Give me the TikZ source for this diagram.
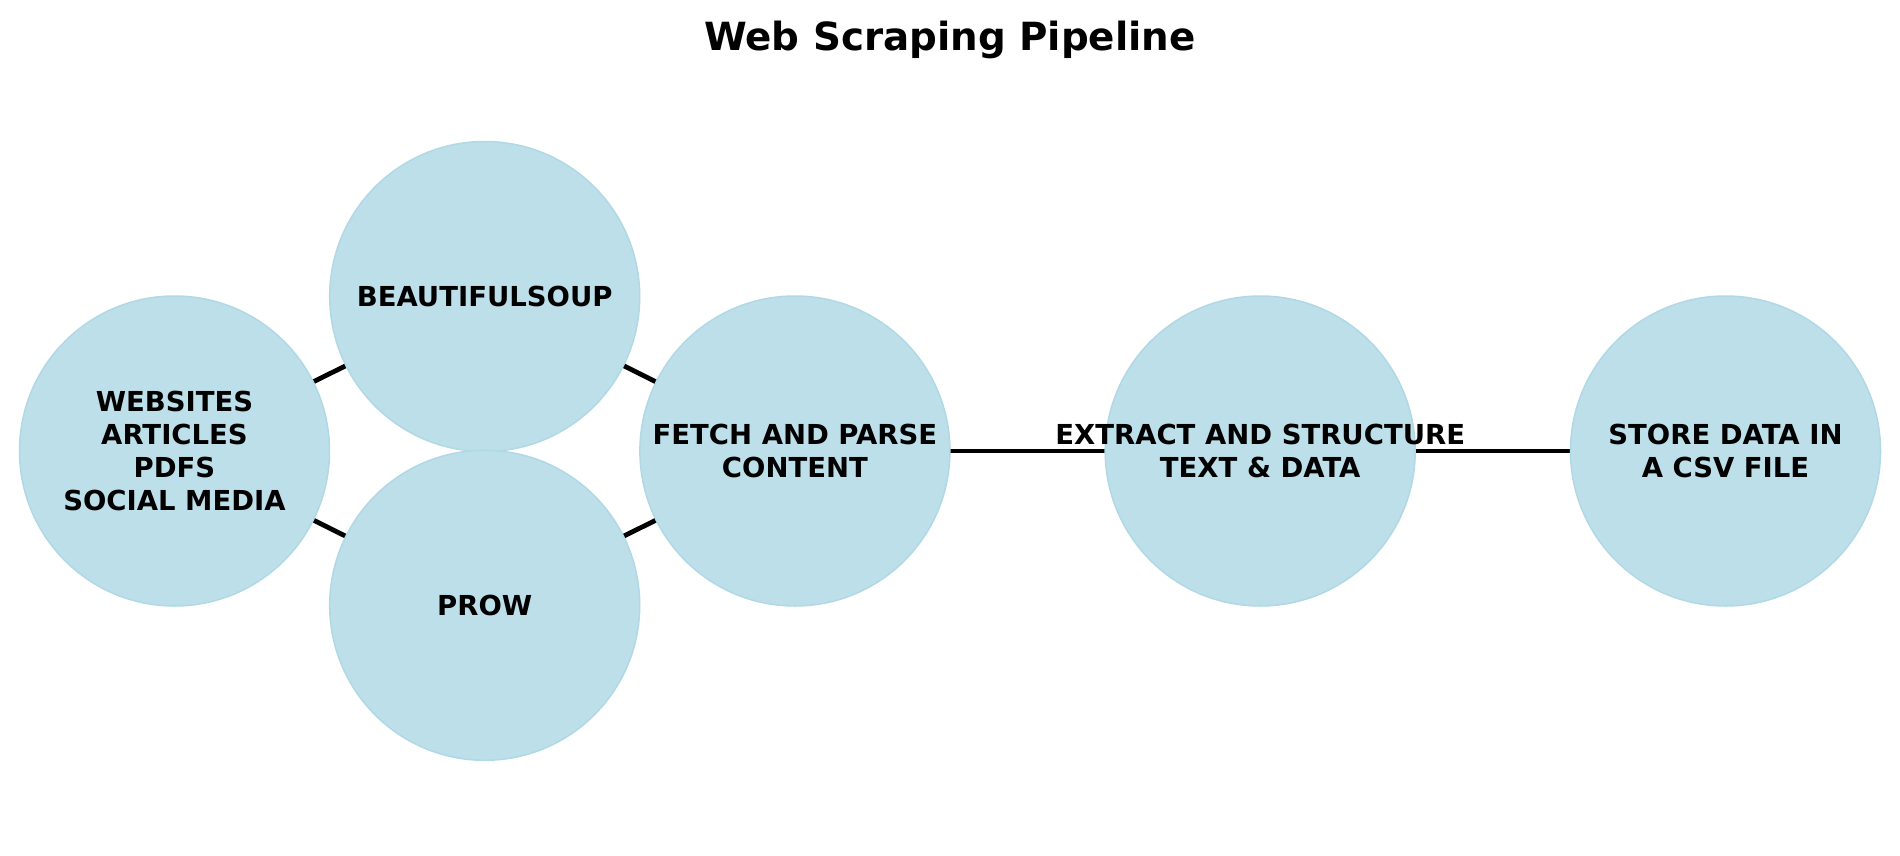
\documentclass[tikz,border=0pt]{standalone}
\usepackage{fontspec}
\setmainfont{DejaVu Sans}
\definecolor{nodefill}{RGB}{189,223,234}
\definecolor{nodeedge}{RGB}{176,216,229}
\begin{document}
\begin{tikzpicture}[x=1pt,y=-1pt,
  bubble/.style={circle,fill=nodefill,draw=nodeedge,line width=1.5pt,minimum size=310pt,inner sep=0pt},
  txt/.style={align=center,font=\fontsize{27.5}{32.7}\selectfont\bfseries,inner sep=0pt},
  link/.style={line width=4.8pt,black}]
\useasboundingbox (0,0) rectangle (1900,856);
\node[font=\fontsize{38.8}{45}\selectfont\bfseries] (title) at (950,40) {Web Scraping Pipeline};
\coordinate (cw) at (174.5,451);
\coordinate (cb) at (484.7,296.5);
\coordinate (cp) at (484.7,605.3);
\coordinate (cf) at (794.9,451);
\coordinate (ce) at (1260.2,451);
\coordinate (cs) at (1725.5,451);
\draw[link] (cw) -- (cb);
\draw[link] (cw) -- (cp);
\draw[link] (cb) -- (cf);
\draw[link] (cp) -- (cf);
\draw[link] (cf) -- (ce);
\draw[link] (ce) -- (cs);
\node[bubble] (web) at (cw) {};
\node[bubble] (bs) at (cb) {};
\node[bubble] (prow) at (cp) {};
\node[bubble] (fetch) at (cf) {};
\node[bubble] (extract) at (ce) {};
\node[bubble] (store) at (cs) {};
\node[txt] (webt) at (web.center) {WEBSITES\\ARTICLES\\PDFS\\SOCIAL MEDIA};
\node[txt] (bst) at (bs.center) {BEAUTIFULSOUP};
\node[txt] (prowt) at (prow.center) {PROW};
\node[txt] (fetcht) at (fetch.center) {FETCH AND PARSE\\CONTENT};
\node[txt] (extractt) at (extract.center) {EXTRACT AND STRUCTURE\\TEXT \& DATA};
\node[txt] (storet) at (store.center) {STORE DATA IN\\A CSV FILE};
\end{tikzpicture}
\end{document}
